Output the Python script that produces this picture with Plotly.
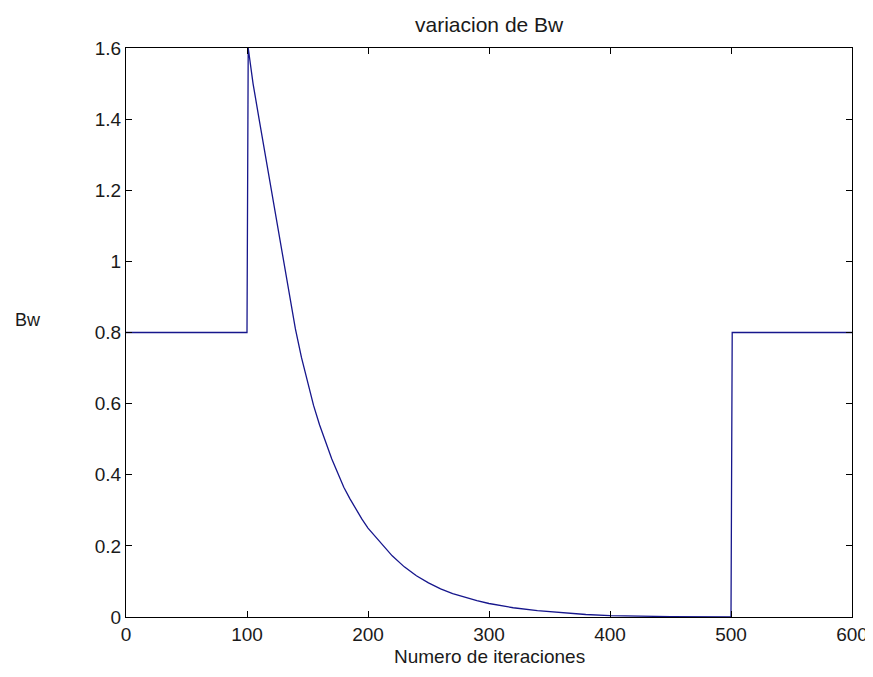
import plotly.graph_objects as go

# Data
iterations = [0, 100, 101, 105, 110, 115, 120, 125, 130, 135, 140, 145, 150, 155, 160,
              165, 170, 175, 180, 185, 190, 195, 200, 210, 220, 230, 240, 250, 260,
              270, 280, 290, 300, 320, 340, 360, 380, 400, 420, 450, 500, 501, 600]
bw_values = [0.8, 0.8, 1.6, 1.50, 1.40, 1.30, 1.20, 1.10, 1.00, 0.90, 0.81, 0.73,
             0.66, 0.595, 0.54, 0.49, 0.445, 0.405, 0.365, 0.333, 0.303, 0.275, 0.25,
             0.21, 0.172, 0.141, 0.116, 0.096, 0.079, 0.066, 0.055, 0.046, 0.038,
             0.026, 0.018, 0.012, 0.007, 0.004, 0.002, 0.001, 0.0, 0.8, 0.8]

x_ticks = [0, 100, 200, 300, 400, 500, 600]
y_ticks = [0, 0.2, 0.4, 0.6, 0.8, 1, 1.2, 1.4, 1.6]
y_tick_labels = ["0", "0.2", "0.4", "0.6", "0.8", "1", "1.2", "1.4", "1.6"]

title_text = "variacion de Bw"
x_title = "Numero de iteraciones"
y_title = "Bw"

font_family = "Liberation Sans Narrow, Arial Narrow, Liberation Sans, Arial, sans-serif"
text_color = "#1a1a1a"

fig = go.Figure()
fig.add_trace(go.Scatter(
    x=iterations, y=bw_values, mode="lines",
    line=dict(color="#16168c", width=1.3),
    showlegend=False, hoverinfo="skip",
))

W, H = 873, 677
# page has an 8px body margin; plot area on page: x 126..852, y 48..617
L, R, T, B = 118, 29, 40, 68

fig.update_layout(
    width=W, height=H,
    margin=dict(l=L, r=R, t=T, b=B, pad=0),
    paper_bgcolor="white", plot_bgcolor="white",
    font=dict(family=font_family, size=19, color=text_color),
    showlegend=False,
)

fig.update_xaxes(
    range=[0, 600], tickvals=x_ticks, ticks="inside", ticklen=6,
    tickcolor="black", showline=True, linecolor="black", linewidth=1,
    mirror="ticks", showgrid=False, zeroline=False,
    tickfont=dict(size=19, family=font_family, color=text_color),
)
fig.update_yaxes(
    range=[0, 1.6], tickvals=y_ticks, ticktext=y_tick_labels, ticks="inside",
    ticklen=6, tickcolor="black", showline=True, linecolor="black", linewidth=1,
    mirror="ticks", showgrid=False, zeroline=False,
    tickfont=dict(size=19, family=font_family, color=text_color),
)

fig.add_annotation(text=title_text, xref="paper", yref="paper", x=0.5,
                   y=1, yshift=24, showarrow=False, yanchor="middle",
                   font=dict(size=21, family=font_family, color=text_color))
fig.add_annotation(text=x_title, xref="paper", yref="paper", x=0.5,
                   y=0, yshift=-39, showarrow=False, yanchor="middle",
                   font=dict(size=19, family=font_family, color=text_color))
fig.add_annotation(text=y_title, xref="paper", yref="paper", x=0,
                   xshift=-98, y=(617 - 320) / (617 - 48), showarrow=False,
                   xanchor="center", yanchor="middle",
                   font=dict(size=18, family=font_family, color=text_color))

fig.write_html("out.html")
